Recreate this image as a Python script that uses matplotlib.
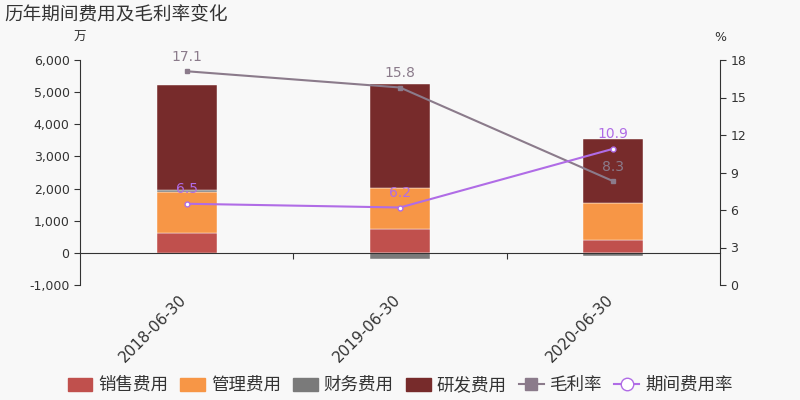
import numpy as np
import matplotlib.pyplot as plt
from matplotlib.patches import FancyBboxPatch
from matplotlib.lines import Line2D
from matplotlib.ticker import FuncFormatter
import matplotlib.transforms as mtransforms

plt.rcParams['font.family'] = ['DejaVu Sans', 'Noto Sans CJK SC']

# data (万元 / %)
dates = ['2018-06-30', '2019-06-30', '2020-06-30']
sales_fee = [622, 727, 392]
admin_fee = [1256, 1293, 1172]
finance_fee = [71, -205, -85]
rd_fee = [3264, 3245, 1980]
gross_margin = [17.1, 15.8, 8.3]
period_rate = [6.5, 6.2, 10.9]

c_sales = '#c0504d'
c_admin = '#f79646'
c_fin = '#7a7a7a'
c_rd = '#772b2b'
c_gm = '#8b7b8b'
c_pr = '#b06ce6'
bg = '#f8f8f8'
cjk = ['Noto Sans CJK SC', 'DejaVu Sans']

fig = plt.figure(figsize=(8, 4), dpi=100, facecolor=bg)
ax = fig.add_axes([0.1, 0.2875, 0.8, 0.5625])
ax.set_facecolor(bg)

x = np.arange(len(dates))
w = 0.28

# stack positives upward, negatives downward
pos_base = np.zeros(len(x))
neg_base = np.zeros(len(x))
for vals, col in [(sales_fee, c_sales), (admin_fee, c_admin), (finance_fee, c_fin), (rd_fee, c_rd)]:
    vals = np.array(vals, dtype=float)
    bottoms = np.where(vals >= 0, pos_base, neg_base)
    ax.bar(x, vals, w, bottom=bottoms, color=col, edgecolor='white', linewidth=0.3, zorder=2)
    pos_base = pos_base + np.where(vals >= 0, vals, 0)
    neg_base = neg_base + np.where(vals < 0, vals, 0)

ax.set_xlim(-0.5, 2.5)
ax.set_ylim(-1000, 6000)
ax.set_yticks(np.arange(-1000, 6001, 1000))
ax.yaxis.set_major_formatter(FuncFormatter(lambda v, p: '{:,.0f}'.format(v)))
ax.tick_params(axis='y', colors='#333333', labelsize=9, length=4)

ax.spines['top'].set_visible(False)
ax.spines['right'].set_visible(False)
ax.spines['bottom'].set_position(('data', 0))
for s in ['left', 'bottom']:
    ax.spines[s].set_color('#333333')

ax.set_xticks([0.5, 1.5])
ax.set_xticklabels([])
ax.tick_params(axis='x', length=4, direction='out', colors='#333333')

trans = mtransforms.blended_transform_factory(ax.transData, ax.transAxes)
for i, d in enumerate(dates):
    ax.text(i - 0.035, -0.03, d, transform=trans, rotation=45, ha='right', va='top',
            fontsize=11, color='#333333', rotation_mode='anchor')

ax.text(0, 1.07, '万', transform=ax.transAxes, ha='center', va='bottom', fontsize=9,
        color='#333333', family=cjk)

ax2 = ax.twinx()
ax2.set_ylim(0, 18)
ax2.set_yticks(np.arange(0, 19, 3))
ax2.tick_params(axis='y', colors='#333333', labelsize=9, length=4)
for s in ['top', 'left', 'bottom']:
    ax2.spines[s].set_visible(False)
ax2.spines['right'].set_color('#333333')
ax2.text(1.0, 1.07, '%', transform=ax2.transAxes, ha='center', va='bottom', fontsize=9, color='#333333')

ax2.plot(x, gross_margin, color=c_gm, lw=1.5, marker='s', ms=3.5, zorder=4)
ax2.plot(x, period_rate, color=c_pr, lw=1.5, marker='o', ms=3.5, mfc='white', mec=c_pr, zorder=4)
for i in range(len(x)):
    ax2.text(x[i], gross_margin[i] + 0.6, '{:.1f}'.format(gross_margin[i]), ha='center', va='bottom',
             fontsize=10, color=c_gm, zorder=5)
    ax2.text(x[i], period_rate[i] + 0.6, '{:.1f}'.format(period_rate[i]), ha='center', va='bottom',
             fontsize=10, color=c_pr, zorder=5)

fig.text(0.006, 0.965, '历年期间费用及毛利率变化', ha='left', va='center', fontsize=13.4,
         color='#333333', family=cjk)

# legend
handles = [
    FancyBboxPatch((0, 0), 1, 1, boxstyle='round,pad=0.1', color=c_sales),
    FancyBboxPatch((0, 0), 1, 1, boxstyle='round,pad=0.1', color=c_admin),
    FancyBboxPatch((0, 0), 1, 1, boxstyle='round,pad=0.1', color=c_fin),
    FancyBboxPatch((0, 0), 1, 1, boxstyle='round,pad=0.1', color=c_rd),
    Line2D([], [], color=c_gm, marker='s', ms=8, lw=1.5),
    Line2D([], [], color=c_pr, marker='o', ms=9, mfc='white', mec=c_pr, lw=1.5),
]
labels = ['销售费用', '管理费用', '财务费用', '研发费用', '毛利率', '期间费用率']
fig.legend(handles, labels, loc='center', bbox_to_anchor=(0.5, 0.037), ncol=6, frameon=False,
           prop={'family': cjk, 'size': 12.6}, handlelength=1.4, handleheight=0.75,
           handletextpad=0.35, columnspacing=0.7, labelcolor='#333333')

fig.savefig('out.png', dpi=100, facecolor=bg)
